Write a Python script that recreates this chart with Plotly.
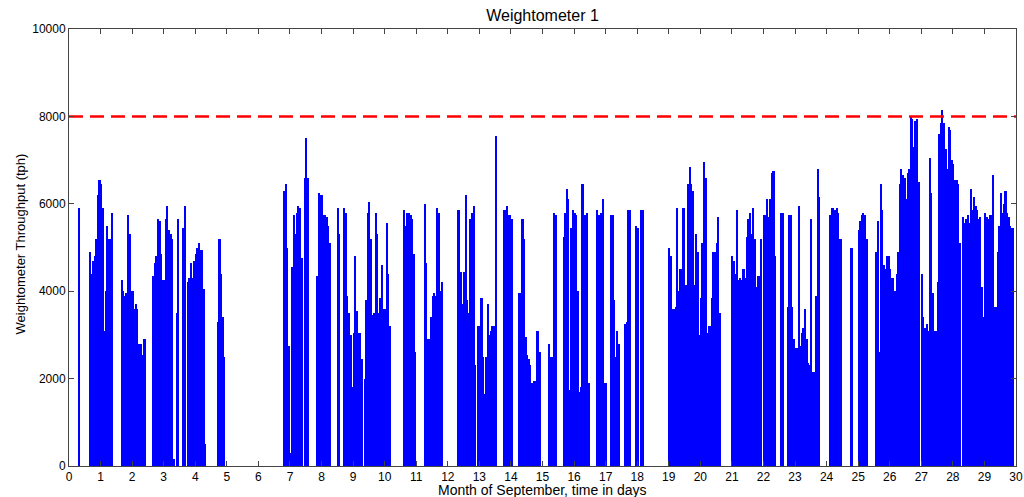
import plotly.graph_objects as go

# Envelope of the throughput trace, sampled every 0.05 day (20 samples per day)
day_00 = [0, 0, 0, 0, 0, 0, 5900, 0, 0, 0, 0, 0, 0, 4900, 4400, 4700, 4800, 5200, 6200, 6550]
day_01 = [6450, 5900, 3100, 4000, 5500, 5200, 5200, 5800, 0, 0, 0, 0, 0, 4250, 4000, 3900, 3950, 5750, 5300, 4000]
day_02 = [4000, 3600, 3700, 3600, 2800, 2800, 2550, 2900, 2900, 0, 0, 0, 0, 4350, 4650, 4800, 5650, 5600, 4850, 4250]
day_03 = [4250, 5650, 5950, 5400, 5300, 5200, 150, 0, 3500, 5650, 0, 0, 5450, 5950, 0, 4200, 4300, 4650, 4300, 4700]
day_04 = [4850, 5000, 5100, 4950, 4950, 4050, 500, 0, 0, 0, 0, 0, 0, 0, 3300, 5200, 4400, 3400, 2500, 0]
day_05 = [0, 0, 0, 0, 0, 0, 0, 0, 0, 0, 0, 0, 0, 0, 0, 0, 0, 0, 0, 0]
day_06 = [0, 0, 0, 0, 0, 0, 0, 0, 0, 0, 0, 0, 0, 0, 0, 0, 6300, 6450, 5000, 2750]
day_07 = [300, 4550, 5750, 5300, 5800, 5950, 5900, 4750, 0, 6600, 7500, 6580, 0, 0, 0, 0, 0, 4350, 6250, 6200]
day_08 = [6200, 5750, 5750, 5700, 5500, 5100, 0, 0, 0, 0, 5900, 5300, 0, 0, 5900, 5800, 3900, 3500, 3000, 1800]
day_09 = [3050, 4800, 3550, 3050, 3050, 2450, 0, 2000, 3800, 5800, 6050, 5200, 3450, 3500, 5800, 5300, 3500, 3850, 4600, 3600]
day_10 = [3600, 5550, 4400, 3200, 0, 0, 0, 0, 0, 0, 0, 0, 5850, 5500, 5800, 5800, 5750, 5650, 4850, 2600]
day_11 = [0, 0, 0, 0, 0, 6000, 4650, 2900, 2900, 3400, 3900, 3950, 3900, 5900, 5800, 4000, 4200, 0, 0, 0]
day_12 = [0, 0, 0, 0, 0, 0, 5850, 5850, 4450, 3700, 4450, 6200, 3800, 3500, 5650, 5800, 5950, 2300, 0, 3200]
day_13 = [3200, 3850, 2500, 1650, 2500, 3700, 3000, 3100, 3200, 3200, 7550, 0, 0, 0, 0, 5850, 5850, 5950, 5750, 5750]
day_14 = [5650, 0, 0, 0, 0, 3950, 3950, 5650, 5200, 2950, 2550, 2450, 2300, 1900, 1950, 1950, 3100, 3100, 2600, 0]
day_15 = [0, 0, 0, 0, 2800, 2500, 2500, 5800, 5750, 0, 0, 0, 0, 5250, 5800, 6350, 6100, 1750, 5450, 5850]
day_16 = [5800, 5750, 4000, 1700, 1800, 6450, 5750, 5750, 5800, 1900, 0, 0, 0, 0, 5850, 5750, 5750, 5800, 6100, 1900]
day_17 = [1900, 0, 0, 5750, 5750, 3800, 2500, 3100, 2800, 0, 0, 0, 3250, 3300, 5850, 5850, 0, 0, 0, 5500]
day_18 = [5450, 0, 5850, 5850, 0, 0, 0, 0, 0, 0, 0, 0, 0, 0, 0, 0, 0, 0, 0, 0]
day_19 = [5000, 4800, 3600, 3600, 3650, 5900, 4000, 4500, 4500, 5900, 4150, 4150, 6450, 6850, 6450, 6300, 4150, 5300, 4900, 3000]
day_20 = [3850, 5100, 6950, 6600, 3050, 3200, 3200, 3850, 4900, 4900, 5100, 5700, 3500, 0, 0, 0, 0, 0, 0, 0]
day_21 = [4800, 4700, 4400, 5850, 4250, 4300, 4250, 4500, 4300, 5250, 5650, 5800, 5300, 5900, 5200, 4100, 4350, 4350, 5200, 0]
day_22 = [5750, 5750, 6100, 5700, 6100, 6700, 6750, 4800, 0, 0, 0, 5800, 5800, 0, 0, 3650, 5750, 5750, 3650, 2900]
day_23 = [2700, 2700, 5950, 2750, 3050, 3150, 3600, 2900, 2350, 2300, 5650, 2150, 2150, 3900, 6800, 6150, 0, 0, 0, 0]
day_24 = [0, 0, 5750, 5900, 5900, 5850, 5900, 5800, 5200, 5200, 0, 0, 0, 0, 0, 5000, 5000, 0, 0, 0]
day_25 = [5400, 5600, 5750, 5800, 5750, 5200, 0, 0, 0, 0, 0, 4900, 5600, 2600, 6450, 5850, 4600, 4500, 4800, 4800]
day_26 = [4500, 4300, 4300, 4000, 4400, 4900, 6450, 6800, 6650, 6600, 6100, 6700, 6800, 8000, 7950, 7300, 7900, 7950, 6500, 0]
day_27 = [4400, 3400, 3150, 3250, 3100, 7050, 6250, 3950, 3100, 3100, 4200, 7600, 7850, 8150, 7850, 7250, 6800, 7750, 7700, 7000]
day_28 = [6900, 6550, 6550, 6450, 5100, 0, 5700, 5550, 5650, 5750, 5550, 6350, 5850, 6150, 5950, 5850, 5650, 5700, 4100, 3400]
day_29 = [5800, 5700, 5650, 5750, 5750, 6650, 3650, 3650, 4900, 5500, 6250, 5800, 6000, 6300, 5800, 5700, 5500, 5450, 5450, 0]

days = [day_00, day_01, day_02, day_03, day_04, day_05, day_06, day_07, day_08, day_09,
        day_10, day_11, day_12, day_13, day_14, day_15, day_16, day_17, day_18, day_19,
        day_20, day_21, day_22, day_23, day_24, day_25, day_26, day_27, day_28, day_29]

limit_value = 8000
x_ticks = list(range(0, 31))
y_ticks = [0, 2000, 4000, 6000, 8000, 10000]

step = 0.05
xs, ys = [], []
for d, vals in enumerate(days):
    for k, v in enumerate(vals):
        xs.append(d + k * step + step / 2)
        ys.append(v)

FONT = "Liberation Sans, Arial, sans-serif"

fig = go.Figure()
fig.add_trace(go.Bar(x=xs, y=ys, width=step, marker=dict(color="#0000FF", line=dict(width=0)),
                     showlegend=False))
fig.add_trace(go.Scatter(x=[0, 30], y=[limit_value, limit_value], mode="lines",
                         line=dict(color="#FF0000", width=2.5, dash="14px,7px"),
                         showlegend=False))

axis_font = dict(family=FONT, size=12, color="#000000")
fig.update_layout(
    width=1024, height=497,
    margin=dict(l=69, r=8, t=29, b=31, autoexpand=False),
    paper_bgcolor="white", plot_bgcolor="white",
    bargap=0,
    title=dict(text="Weightometer 1", x=0.5, xanchor="center", xref="paper",
               y=1 - 15 / 497, yref="container", yanchor="middle",
               font=dict(family=FONT, size=16, color="#000000")),
    font=axis_font,
    annotations=[
        dict(text="Month of September, time in days", xref="paper", yref="paper",
             x=0.5, y=0, yshift=-24, xanchor="center", yanchor="middle", showarrow=False,
             font=dict(family=FONT, size=14, color="#000000")),
        dict(text="Weightometer Throughput (tph)", xref="paper", yref="paper",
             x=0, y=0.5, xshift=-49, yshift=3, xanchor="center", yanchor="middle",
             textangle=-90, showarrow=False,
             font=dict(family=FONT, size=13, color="#000000")),
    ],
)
fig.update_xaxes(range=[0, 30], tickvals=x_ticks, ticktext=[str(t) for t in x_ticks],
                 ticks="inside", ticklen=5, tickcolor="#444", showline=True, linecolor="#444",
                 linewidth=1, mirror="allticks", showgrid=False, zeroline=False,
                 tickfont=axis_font, automargin=False)
fig.update_yaxes(range=[0, 10000], tickvals=y_ticks, ticktext=[str(t) for t in y_ticks],
                 ticks="inside", ticklen=5, tickcolor="#444", showline=True, linecolor="#444",
                 linewidth=1, mirror="allticks", showgrid=False, zeroline=False,
                 tickfont=axis_font, automargin=False)

fig.write_html("out.html", config={"displayModeBar": False})

# remove the browser's default body margin so the figure fills the window exactly
with open("out.html", "r", encoding="utf-8") as f:
    html = f.read()
html = html.replace("<body>", '<body style="margin:0;padding:0;overflow:hidden">', 1)
with open("out.html", "w", encoding="utf-8") as f:
    f.write(html)
